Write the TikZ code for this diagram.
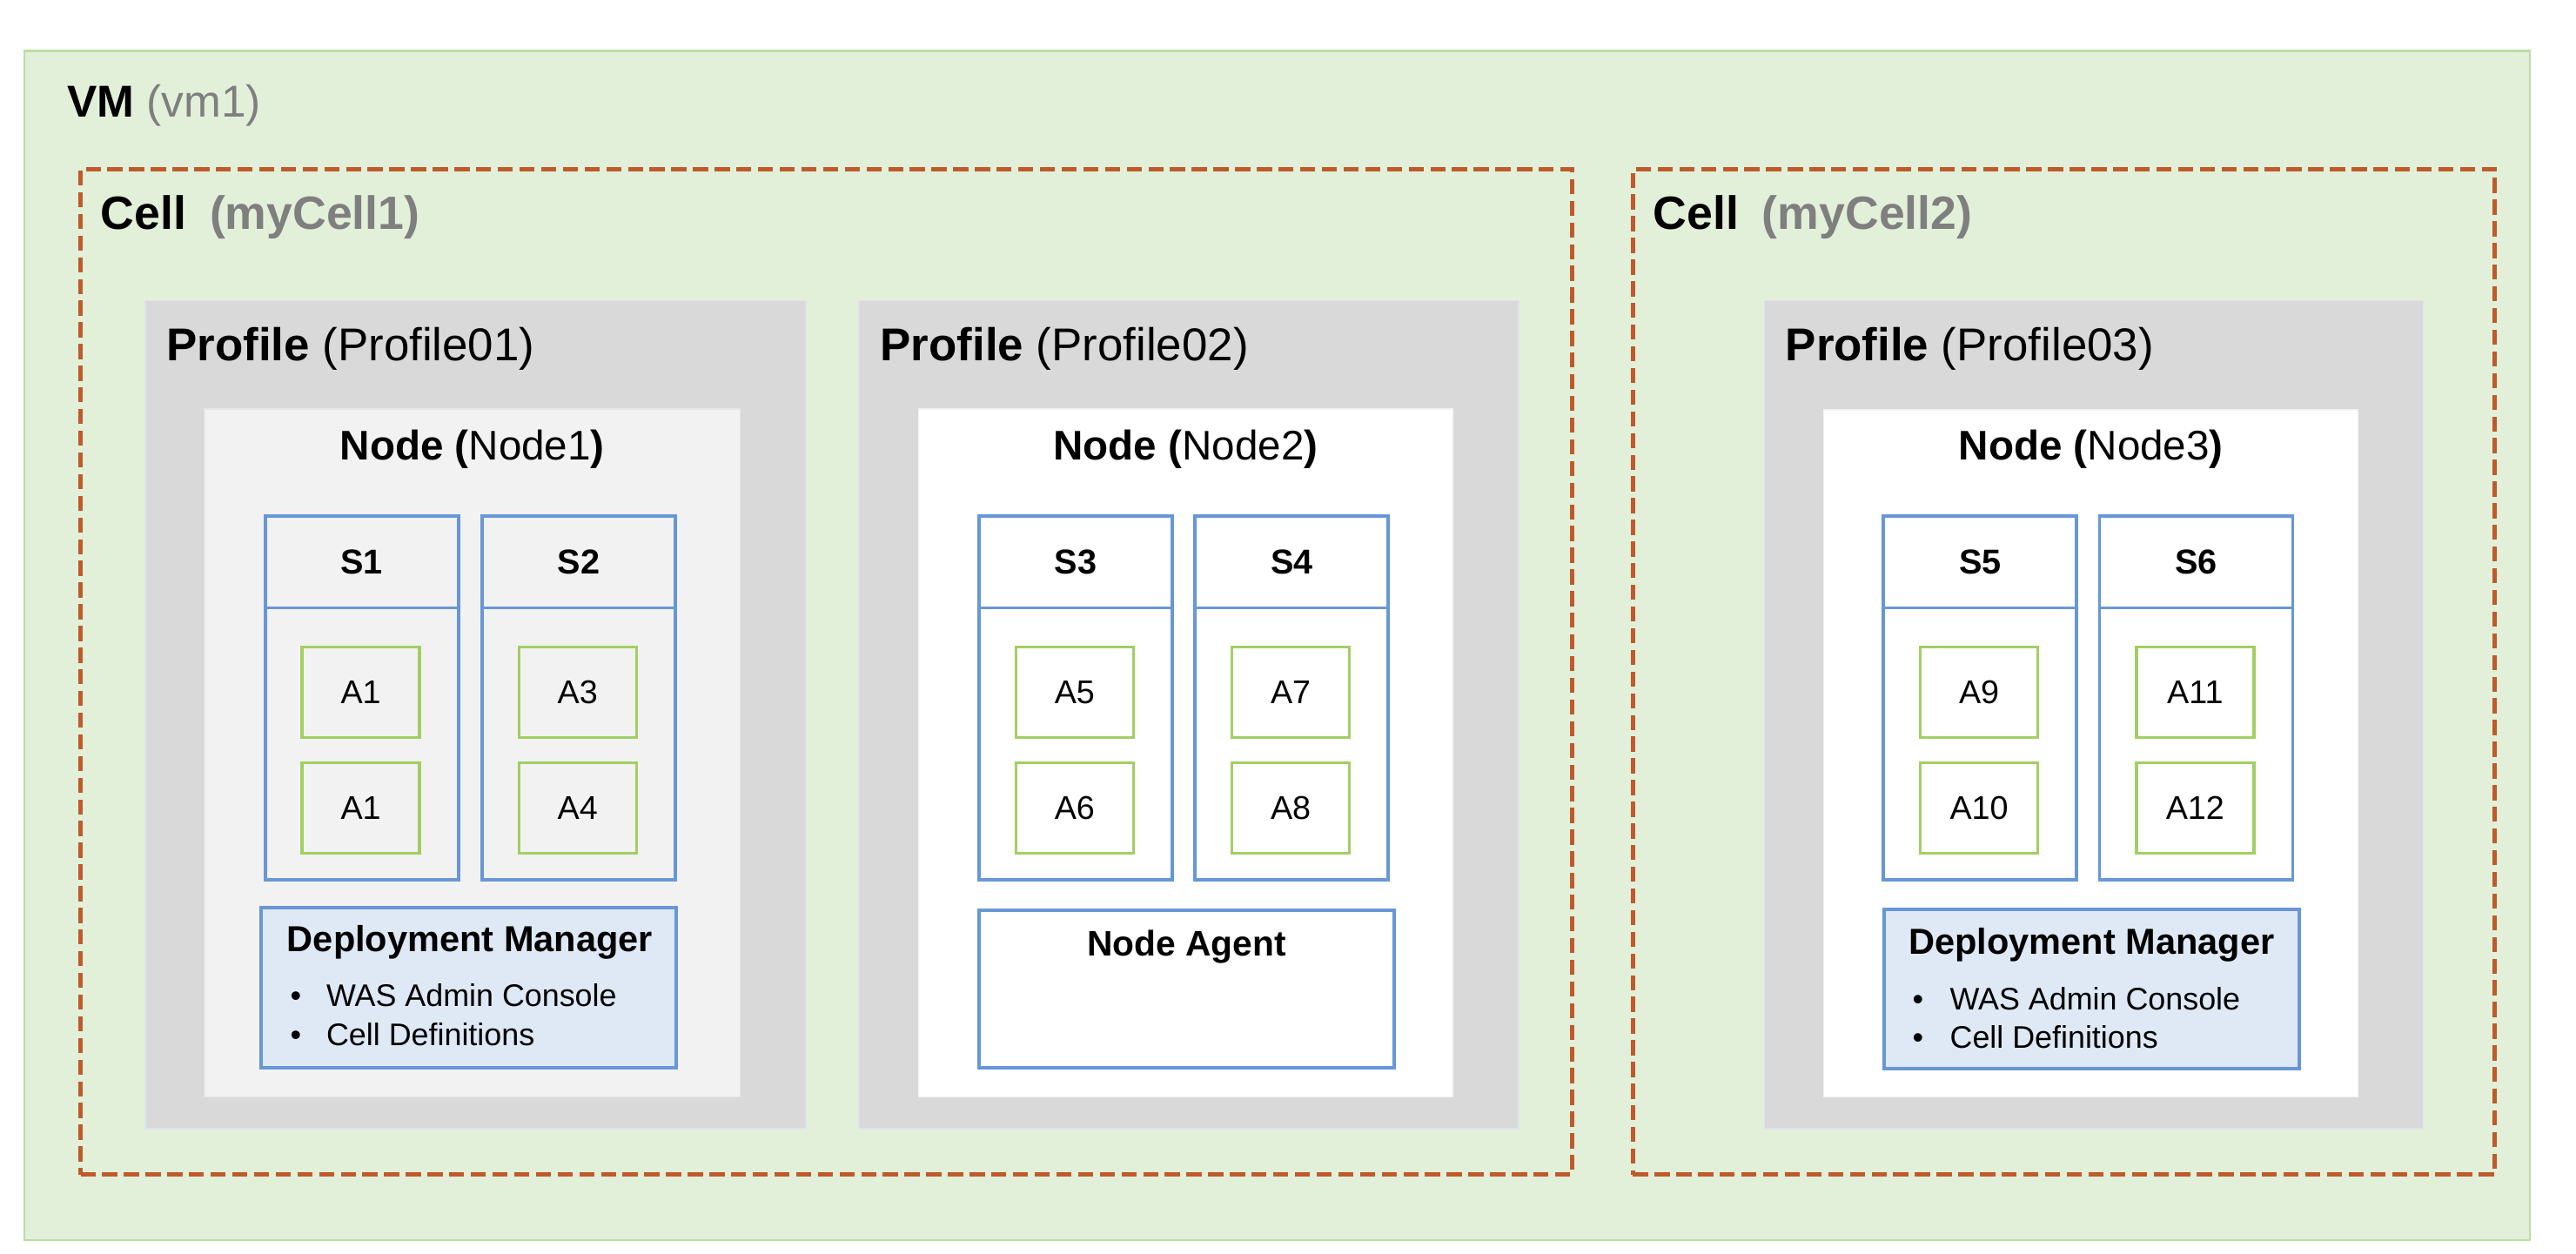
\documentclass[tikz,border=0pt]{standalone}
\usepackage{fontspec}
\setmainfont{Liberation Sans}
\usetikzlibrary{fit}
\definecolor{vmfill}{HTML}{E2F0D9}
\definecolor{vmline}{HTML}{B9DEA5}
\definecolor{cellline}{HTML}{BF5A2A}
\definecolor{proffill}{HTML}{D9D9D9}
\definecolor{profline}{HTML}{DDE3EC}
\definecolor{nodeonefill}{HTML}{F2F2F2}
\definecolor{srvline}{HTML}{6797D6}
\definecolor{appline}{HTML}{A2CF63}
\definecolor{dmfill}{HTML}{DEE9F5}
\definecolor{graytxt}{HTML}{7F7F7F}
\newcommand\mybox[6]{\node[#2, fit={(#3,#4)(#5,#6)}, inner sep=0pt] (#1) {};}
\begin{document}
\begin{tikzpicture}[x=0.5pt,y=-0.5pt,
  vmbox/.style={draw=vmline, line width=0.6pt, fill=vmfill},
  cellbox/.style={draw=cellline, line width=1.3pt, dash pattern=on 4.6pt off 2pt},
  profbox/.style={draw=profline, line width=0.5pt, fill=proffill},
  nodebox/.style={draw=#1!95!black, line width=0.3pt, fill=#1},
  srvbox/.style={draw=srvline, line width=1pt},
  srvdiv/.style={draw=srvline, line width=1pt},
  appbox/.style={draw=appline, line width=0.9pt, minimum width=35.75pt, minimum height=27.5pt, inner sep=0pt, font=\fontsize{10}{12}\selectfont},
  dmbox/.style={draw=srvline, line width=1pt, fill=dmfill},
  nabox/.style={draw=srvline, line width=1pt, fill=white},
  txt/.style={inner sep=0pt, text=black},
  tvm/.style={txt, font=\fontsize{13.6}{16}\selectfont},
  tcell/.style={txt, font=\fontsize{14.2}{17}\selectfont},
  tprof/.style={txt, font=\fontsize{14}{17}\selectfont},
  tnode/.style={txt, font=\fontsize{12.6}{15}\selectfont},
  tsrv/.style={txt, font=\fontsize{10.5}{13}\selectfont\bfseries},
  tdm/.style={txt, font=\fontsize{11}{13}\selectfont\bfseries},
  tbul/.style={txt, font=\fontsize{9.5}{12}\selectfont},
  tna/.style={txt, font=\fontsize{10.8}{13}\selectfont\bfseries}
]
\useasboundingbox (0,0) rectangle (1568,763);
\fill[white] (0,0) rectangle (1568,763);
\coordinate (y370) at (0,370);

% VM
\mybox{vm}{vmbox}{15}{31}{1540}{755}
\node[tvm, anchor=base west] (vmlab) at (40.5,71.5) {\textbf{VM} \textcolor{graytxt}{(vm1)}};

% Cells
\mybox{cell1}{cellbox}{49}{103}{957}{715}
\node[tcell, anchor=base west] (cell1lab) at (61,139.5) {\textbf{Cell}\hspace{0.5em}\textcolor{graytxt}{\textbf{(myCell1)}}};
\mybox{cell2}{cellbox}{994}{103}{1518.5}{715}
\node[tcell, anchor=base west] (cell2lab) at (1006,139.5) {\textbf{Cell}\hspace{0.5em}\textcolor{graytxt}{\textbf{(myCell2)}}};

% Profiles
\mybox{p1}{profbox}{88.5}{183}{490.5}{687}
\node[tprof, anchor=base west] (p1lab) at (101,219.5) {\textbf{Profile} (Profile01)};
\mybox{p2}{profbox}{523}{183}{924.5}{687}
\node[tprof, anchor=base west] (p2lab) at (535.5,219.5) {\textbf{Profile} (Profile02)};
\mybox{p3}{profbox}{1074}{183}{1475}{687}
\node[tprof, anchor=base west] (p3lab) at (1086.5,219.5) {\textbf{Profile} (Profile03)};

% Nodes
\mybox{n1}{nodebox=nodeonefill}{124.5}{249}{450.5}{667.5}
\node[tnode, anchor=base] (n1lab) at (287.5,280) {\textbf{Node (}Node1\textbf{)}};
\mybox{n2}{nodebox=white}{559}{249}{884.5}{667.5}
\node[tnode, anchor=base] (n2lab) at (721.75,280) {\textbf{Node (}Node2\textbf{)}};
\mybox{n3}{nodebox=white}{1110}{249.5}{1435.5}{667.5}
\node[tnode, anchor=base] (n3lab) at (1272.75,280) {\textbf{Node (}Node3\textbf{)}};

% Servers and applications
\foreach \n/\lab/\xa/\ta/\tb in {1/S1/161.5/A1/A1, 2/S2/293.5/A3/A4, 3/S3/596/A5/A6, 4/S4/727.5/A7/A8, 5/S5/1146.5/A9/A10, 6/S6/1278/A11/A12}{
  \pgfmathsetmacro\xb{\xa+117.5}
  \pgfmathsetmacro\xc{\xa+58.75}
  \pgfmathsetmacro\xp{\xa+21.5}
  \mybox{s\n}{srvbox}{\xa}{314}{\xb}{535.5}
  \draw[srvdiv] (s\n.west |- y370) -- (s\n.east |- y370);
  \node[tsrv, anchor=base] (s\n lab) at (\xc,349.6) {\lab};
  \node[appbox, anchor=north west] (s\n a1) at (\xp,393) {\ta};
  \node[appbox, anchor=north west] (s\n a2) at (\xp,463.5) {\tb};
}

% Deployment Manager 1
\mybox{dm1}{dmbox}{159}{552.5}{411.5}{650}
\node[tdm, anchor=base west] (dm1t) at (174.4,579.5) {Deployment Manager};
\node[tbul, anchor=base west] (dm1b1) at (176.3,612.8) {\textbullet};
\node[tbul, anchor=base west] (dm1l1) at (198.3,612.8) {WAS Admin Console};
\node[tbul, anchor=base west] (dm1b2) at (176.3,636.6) {\textbullet};
\node[tbul, anchor=base west] (dm1l2) at (198.3,636.6) {Cell Definitions};

% Node Agent
\mybox{na}{nabox}{596}{554}{848.5}{650}
\node[tna, anchor=base] (nalab) at (722.3,581.7) {Node Agent};

% Deployment Manager 3
\mybox{dm3}{dmbox}{1147}{553.5}{1399.5}{650.5}
\node[tdm, anchor=base west] (dm3t) at (1161.5,581) {Deployment Manager};
\node[tbul, anchor=base west] (dm3b1) at (1163.7,614.5) {\textbullet};
\node[tbul, anchor=base west] (dm3l1) at (1186.5,614.5) {WAS Admin Console};
\node[tbul, anchor=base west] (dm3b2) at (1163.7,638.3) {\textbullet};
\node[tbul, anchor=base west] (dm3l2) at (1186.5,638.3) {Cell Definitions};
\end{tikzpicture}
\end{document}
